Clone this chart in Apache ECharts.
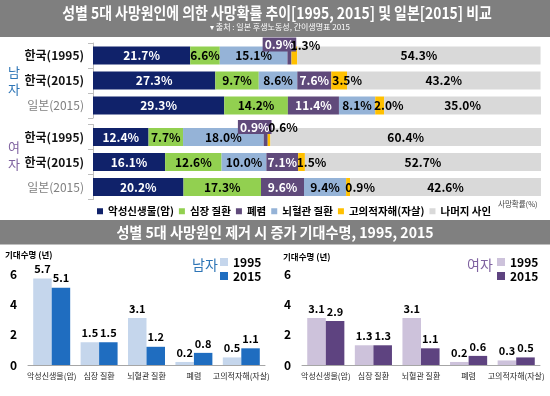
<!DOCTYPE html>
<html>
<head>
<meta charset="utf-8">
<script src="https://cdn.jsdelivr.net/npm/echarts@6/dist/echarts.min.js"></script>
<style>
html,body{margin:0;padding:0;background:#fff}
#main{width:550px;height:396px}
</style>
</head>
<body>
<div id="main"></div>
<script>
// 위쪽 차트: 사망확률(%) 누적 막대
const rowNames = ['한국(1995)', '한국(2015)', '일본(2015)'];
const causeNames = ['악성신생물(암)', '심장 질환', '폐렴', '뇌혈관 질환', '고의적자해(자살)', '나머지 사인'];

const maleCancer = [21.7, 27.3, 29.3];
const maleHeart = [6.6, 9.7, 14.2];
const malePneu = [0.9, 7.6, 11.4];
const maleCere = [15.1, 8.6, 8.1];
const maleSuicide = [1.3, 3.5, 2.0];
const maleOther = [54.3, 43.2, 35.0];

const femaleCancer = [12.4, 16.1, 20.2];
const femaleHeart = [7.7, 12.6, 17.3];
const femalePneu = [0.9, 7.1, 9.6];
const femaleCere = [18.0, 10.0, 9.4];
const femaleSuicide = [0.6, 1.5, 0.9];
const femaleOther = [60.4, 52.7, 42.6];

// 아래쪽 차트: 제거 시 증가 기대수명(년)
const lifeCauses = ['악성신생물(암)', '심장 질환', '뇌혈관 질환', '폐렴', '고의적자해(자살)'];
const male1995 = [5.7, 1.5, 3.1, 0.2, 0.5];
const male2015 = [5.1, 1.5, 1.2, 0.8, 1.1];
const female1995 = [3.1, 1.3, 3.1, 0.2, 0.3];
const female2015 = [2.9, 1.3, 1.1, 0.6, 0.5];
const lifeTicks = [0, 2, 4, 6];

const FONT = "'Noto Sans CJK KR', 'Noto Sans', sans-serif";
const C = {cancer: '#10226a', heart: '#92d050', pneu: '#604a7b', cere: '#95b3d7', sui: '#ffc000', other: '#d9d9d9'};
const MALE = '#2e75b6', FEMALE = '#7f62a0';

// 작은 조각 라벨 위치 조정 (행 index 별)
const maleTweak = {
    pneu: {0: {offset: [-10, -11], backgroundColor: C.pneu, padding: [1, 2]}},
    sui: {0: {offset: [11, -10]}, 1: {offset: [8, 0]}, 2: {offset: [9, 0]}}
};
const femaleTweak = {
    pneu: {0: {offset: [-11, -10], backgroundColor: C.pneu, padding: [1, 2]}},
    sui: {0: {offset: [14, -10]}, 1: {offset: [10, 0]}, 2: {offset: [12, 0]}}
};

function stackSeries(gi, d, tw) {
    const mk = (name, vals, color, txt, key, keep) => ({
        name: name, type: 'bar', stack: 's' + gi, xAxisIndex: gi, yAxisIndex: gi,
        barWidth: 18, itemStyle: {color: color},
        label: {show: true, position: 'inside', color: txt, fontSize: 12, fontWeight: 'bold', fontFamily: FONT,
            formatter: p => p.value.toFixed(1) + '%'},
        data: vals.map((v, i) => {
            if (keep && !keep(i)) return {value: 0, label: {show: false}};
            const t = tw[key] && tw[key][i];
            return t ? {value: v, label: t} : v;
        })
    });
    // 한국은 뇌혈관 -> 폐렴, 일본은 폐렴 -> 뇌혈관 순서
    return [
        mk('악성신생물(암)', d[0], C.cancer, '#fff', 'cancer'),
        mk('심장 질환', d[1], C.heart, '#000', 'heart'),
        mk('뇌혈관 질환', d[3], C.cere, '#000', 'cere', i => i < 2),
        mk('폐렴', d[2], C.pneu, '#fff', 'pneu'),
        mk('뇌혈관 질환', d[3], C.cere, '#000', 'cere', i => i === 2),
        mk('고의적자해(자살)', d[4], C.sui, '#000', 'sui'),
        mk('나머지 사인', d[5], C.other, '#000', 'other')
    ];
}

const rowAxis = gi => ({
    type: 'category', gridIndex: gi, data: rowNames, inverse: true,
    axisLine: {show: true, lineStyle: {color: '#bfbfbf'}},
    axisTick: {show: true, length: 5, lineStyle: {color: '#bfbfbf'}},
    axisLabel: {margin: 9, formatter: (v, i) => (i < 2 ? '{k|' : '{j|') + v + '}',
        rich: {k: {fontSize: 12, fontWeight: 'bold', color: '#111', fontFamily: FONT},
               j: {fontSize: 12, color: '#808080', fontFamily: FONT}}}
});

const lifeX = gi => ({
    type: 'category', gridIndex: gi, data: lifeCauses,
    axisLine: {lineStyle: {color: '#a6a6a6'}},
    axisTick: {length: 3, lineStyle: {color: '#a6a6a6'}},
    axisLabel: {interval: 0, fontSize: 8, color: '#262626', margin: 7, fontFamily: FONT}
});
const lifeY = gi => ({
    type: 'value', gridIndex: gi, min: lifeTicks[0], max: lifeTicks[lifeTicks.length - 1], interval: 2,
    axisLine: {show: false}, axisTick: {show: false}, splitLine: {show: false},
    axisLabel: {fontSize: 12, fontWeight: 'bold', color: '#000', margin: 11, fontFamily: FONT}
});
const lifeBar = (name, gi, vals, color) => ({
    name: name, type: 'bar', xAxisIndex: gi, yAxisIndex: gi, data: vals,
    barGap: '0%', barCategoryGap: '22%', itemStyle: {color: color},
    label: {show: true, position: 'top', distance: 4, fontSize: 11, fontWeight: 'bold', color: '#000',
        fontFamily: FONT, formatter: p => p.value.toFixed(1)}
});

const txt = (x, y, text, font, fill, lh) => ({
    type: 'text', x: x, y: y,
    style: {text: text, font: font, fill: fill, lineHeight: lh, align: 'left', verticalAlign: 'middle',
        textAlign: 'left', textVerticalAlign: 'middle'}
});
const ctxt = (x, y, text, font, fill, sx) => ({
    type: 'text', x: x, y: y, scaleX: sx,
    style: {text: text, font: font, fill: fill, align: 'center', verticalAlign: 'middle',
        textAlign: 'center', textVerticalAlign: 'middle'}
});

const chart = echarts.init(document.getElementById('main'));
chart.setOption({
    backgroundColor: '#fff',
    animation: false,
    textStyle: {fontFamily: FONT},
    grid: [
        {left: 93, right: 9, top: 43, height: 75},
        {left: 93, right: 9, top: 124.5, height: 75},
        {left: 28, top: 274, width: 237, height: 91},
        {left: 302, top: 274, width: 238, height: 91}
    ],
    xAxis: [
        {type: 'value', gridIndex: 0, min: 0, max: 100, show: false},
        {type: 'value', gridIndex: 1, min: 0, max: 100, show: false},
        lifeX(2), lifeX(3)
    ],
    yAxis: [rowAxis(0), rowAxis(1), lifeY(2), lifeY(3)],
    legend: [
        {data: causeNames, left: 92, top: 201, icon: 'rect', itemWidth: 6, itemHeight: 6, itemGap: 5,
            selectedMode: false, textStyle: {fontSize: 10.5, fontWeight: 'bold', color: '#000', fontFamily: FONT}},
        {data: ['남자 1995', '남자 2015'], orient: 'vertical', left: 215, top: 251, icon: 'rect',
            itemWidth: 8, itemHeight: 8, itemGap: 2, selectedMode: false, formatter: n => n.slice(3),
            textStyle: {fontSize: 12, fontWeight: 'bold', color: '#000', fontFamily: FONT}},
        {data: ['여자 1995', '여자 2015'], orient: 'vertical', left: 492, top: 251, icon: 'rect',
            itemWidth: 8, itemHeight: 8, itemGap: 2, selectedMode: false, formatter: n => n.slice(3),
            textStyle: {fontSize: 12, fontWeight: 'bold', color: '#000', fontFamily: FONT}}
    ],
    graphic: [
        {type: 'rect', shape: {x: 0, y: 0, width: 550, height: 37}, style: {fill: '#7f7f7f'}},
        ctxt(277, 13, '성별 5대 사망원인에 의한 사망확률 추이[1995, 2015] 및 일본[2015] 비교', 'bold 16px ' + FONT, '#fff', 0.87),
        ctxt(280, 27, '▾ 출처 : 일본 후생노동성, 간이생명표 2015', '8px ' + FONT, '#fff', 1),
        {type: 'rect', shape: {x: 0, y: 220, width: 550, height: 24.5}, style: {fill: '#808080'}},
        ctxt(275, 232.5, '성별 5대 사망원인 제거 시 증가 기대수명, 1995, 2015', 'bold 15px ' + FONT, '#fff', 0.94),
        txt(8, 81, '남\n자', '13px ' + FONT, MALE, 17),
        txt(8, 156, '여\n자', '13px ' + FONT, FEMALE, 17),
        txt(498, 204, '사망확률(%)', '7.5px ' + FONT, '#404040'),
        txt(5, 255, '기대수명 (년)', 'bold 8.5px ' + FONT, '#000'),
        txt(283, 257, '기대수명 (년)', 'bold 8.5px ' + FONT, '#000'),
        txt(192, 265, '남자', '14px ' + FONT, MALE),
        txt(467, 265, '여자', '14px ' + FONT, FEMALE)
    ],
    series: [].concat(
        stackSeries(0, [maleCancer, maleHeart, malePneu, maleCere, maleSuicide, maleOther], maleTweak),
        stackSeries(1, [femaleCancer, femaleHeart, femalePneu, femaleCere, femaleSuicide, femaleOther], femaleTweak),
        [
            lifeBar('남자 1995', 2, male1995, '#c5d6ec'),
            lifeBar('남자 2015', 2, male2015, '#1f6dc0'),
            lifeBar('여자 1995', 3, female1995, '#cdc2db'),
            lifeBar('여자 2015', 3, female2015, '#5e4380')
        ]
    )
});
</script>
</body>
</html>
